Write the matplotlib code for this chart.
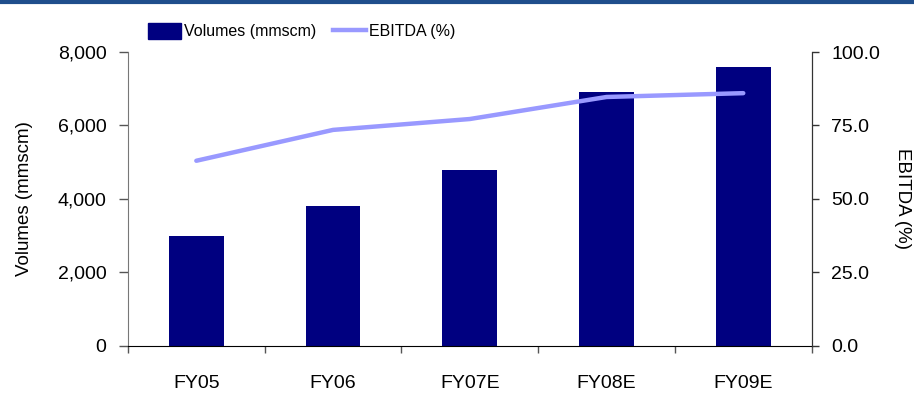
import numpy as np
import matplotlib.pyplot as plt
from matplotlib.lines import Line2D

plt.rcParams['font.family'] = ['Liberation Sans', 'DejaVu Sans']

years = ["FY05", "FY06", "FY07E", "FY08E", "FY09E"]
volumes = [3000, 3800, 4800, 6900, 7600]
ebitda = [63.0, 73.5, 77.2, 84.7, 86.0]

fig = plt.figure(figsize=(9.14, 3.94), dpi=100)
ax1 = fig.add_axes([0.140, 0.122, 0.748, 0.746])
ax2 = ax1.twinx()

x = np.arange(len(years))

# Bars: volumes
ax1.bar(x, volumes, width=0.4, color="#000080", zorder=2)
ax1.set_xlim(-0.5, len(years) - 0.5)
ax1.set_ylim(0, 8000)
ax1.set_yticks(np.arange(0, 8001, 2000))
ax1.set_yticklabels([f"{v:,}" for v in range(0, 8001, 2000)], fontsize=14)
ax1.set_ylabel("Volumes (mmscm)", fontsize=13.5, labelpad=18)
ax1.set_xticks(x)
ax1.set_xticklabels(years, fontsize=14)
ax1.set_xticks(np.arange(-0.5, len(years), 1.0), minor=True)
ax1.tick_params(axis="x", which="major", length=0, pad=21)
ax1.tick_params(axis="x", which="minor", length=5, width=1, color="#555555")
ax1.tick_params(axis="y", length=6.5, width=1, color="#555555", pad=9)

# Line: EBITDA margin
ax2.plot(x, ebitda, color="#9999FF", lw=3.2, solid_capstyle="round", zorder=3)
ax2.set_ylim(0, 100)
ax2.set_yticks(np.arange(0, 101, 25))
ax2.set_yticklabels([f"{v:.1f}" for v in range(0, 101, 25)], fontsize=14)
ax2.set_ylabel("EBITDA (%)", fontsize=13.5, rotation=270, labelpad=22)
ax2.tick_params(axis="y", length=5, width=1, color="#333333", pad=9)

for a in (ax1, ax2):
    a.spines["top"].set_visible(False)
ax1.spines["left"].set_color("#777777")
ax1.spines["bottom"].set_color("#000000")
ax2.spines["left"].set_visible(False)
ax2.spines["bottom"].set_visible(False)
ax2.spines["right"].set_color("#333333")

handles = [
    plt.Rectangle((0, 0), 1, 1, color="#000080"),
    Line2D([0], [0], color="#9999FF", lw=3.2),
]
fig.legend(handles, ["Volumes (mmscm)", "EBITDA (%)"], loc="center",
           bbox_to_anchor=(0.33, 0.921), ncol=2, frameon=False,
           fontsize=11.5, handlelength=2.1, handleheight=1.2,
           columnspacing=1.0, handletextpad=0.2)

# Dark blue rule across the top
fig.add_artist(Line2D([0, 1], [0.995, 0.995], color="#1F4E8C", lw=3,
                      transform=fig.transFigure))

fig.savefig("out.png", dpi=100)
